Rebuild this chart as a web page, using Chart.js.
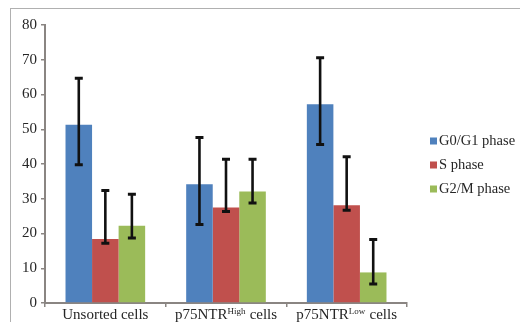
<!DOCTYPE html>
<html>
<head>
<meta charset="utf-8">
<script src="https://cdn.jsdelivr.net/npm/chart.js@4/dist/chart.umd.min.js"></script>
<style>
  html, body { margin: 0; padding: 0; background: #fff; }
  #wrap { width: 520px; height: 322px; position: relative; }
</style>
</head>
<body>
<div id="wrap"><canvas id="c" width="520" height="322"></canvas></div>
<script>
// Cell-cycle distribution (%) by population; "^{...}" marks superscript text
const categories = ['Unsorted cells', 'p75NTR^{High} cells', 'p75NTR^{Low} cells'];
const seriesNames = ['G0/G1 phase', 'S phase', 'G2/M phase'];
const seriesColors = ['#4F81BD', '#C0504D', '#9BBB59'];

const g0g1 = [51.3, 34.2, 57.2];
const sPhase = [18.4, 27.5, 28.1];
const g2m = [22.2, 32.1, 8.8];

// error bar ends (lower / upper)
const g0g1Low = [39.8, 22.6, 45.6];
const g0g1High = [64.7, 47.6, 70.6];
const sLow = [17.2, 26.3, 26.7];
const sHigh = [32.4, 41.4, 42.1];
const g2mLow = [18.7, 28.8, 5.5];
const g2mHigh = [31.3, 41.4, 18.3];

const yTicks = [0, 10, 20, 30, 40, 50, 60, 70, 80];

const seriesValues = [g0g1, sPhase, g2m];
const seriesLow = [g0g1Low, sLow, g2mLow];
const seriesHigh = [g0g1High, sHigh, g2mHigh];

const SERIF = '"Liberation Serif", "Times New Roman", serif';
const AXIS = '#8a8582';
const TEXT = '#262626';

const framePlugin = {
  id: 'frame',
  beforeDraw(chart) {
    const ctx = chart.ctx;
    ctx.save();
    ctx.fillStyle = '#fff';
    ctx.fillRect(0, 0, chart.width, chart.height);
    ctx.strokeStyle = '#b0b0b0';
    ctx.lineWidth = 1;
    ctx.strokeRect(10.5, 8.5, 530, 340);
    ctx.restore();
  }
};

const errorBarPlugin = {
  id: 'errorBars',
  afterDatasetsDraw(chart) {
    const ctx = chart.ctx;
    const y = chart.scales.y;
    ctx.save();
    ctx.strokeStyle = '#111';
    chart.data.datasets.forEach((ds, di) => {
      const meta = chart.getDatasetMeta(di);
      meta.data.forEach((bar, i) => {
        const x = bar.x;
        const yTop = y.getPixelForValue(seriesHigh[di][i]);
        const yBot = y.getPixelForValue(seriesLow[di][i]);
        ctx.lineWidth = 2.6;
        ctx.beginPath();
        ctx.moveTo(x, yTop);
        ctx.lineTo(x, yBot);
        ctx.stroke();
        ctx.lineWidth = 3;
        ctx.beginPath();
        ctx.moveTo(x - 4, yTop);
        ctx.lineTo(x + 4, yTop);
        ctx.moveTo(x - 4, yBot);
        ctx.lineTo(x + 4, yBot);
        ctx.stroke();
      });
    });
    ctx.restore();
  }
};

function parseLabel(s) {
  const m = s.match(/^(.*)\^\{(.*)\}(.*)$/);
  return m ? [m[1], m[2], m[3]] : [s, '', ''];
}

const xLabelPlugin = {
  id: 'xLabels',
  afterDraw(chart) {
    const ctx = chart.ctx;
    const xs = chart.scales.x;
    const base = '15px ' + SERIF;
    const sup = '9px ' + SERIF;
    ctx.save();
    ctx.fillStyle = TEXT;
    ctx.textBaseline = 'alphabetic';
    ctx.textAlign = 'left';
    categories.forEach((lab, i) => {
      const [a, b, c] = parseLabel(lab);
      ctx.font = base;
      const wa = ctx.measureText(a).width;
      const wc = ctx.measureText(c).width;
      ctx.font = sup;
      const wb = b ? ctx.measureText(b).width + 0.5 : 0;
      const total = wa + wb + wc;
      let x = xs.getPixelForValue(i) - total / 2;
      const by = 318.5;
      ctx.font = base;
      ctx.fillText(a, x, by);
      x += wa;
      if (b) {
        ctx.font = sup;
        ctx.fillText(b, x, by - 5);
        x += wb;
      }
      ctx.font = base;
      ctx.fillText(c, x, by);
    });
    ctx.restore();
  }
};

const legendPlugin = {
  id: 'sideLegend',
  afterDraw(chart) {
    const ctx = chart.ctx;
    ctx.save();
    ctx.font = '14.5px ' + SERIF;
    ctx.textBaseline = 'middle';
    ctx.textAlign = 'left';
    chart.data.datasets.forEach((ds, i) => {
      const cy = 141 + i * 24;
      ctx.fillStyle = ds.backgroundColor;
      ctx.fillRect(430, cy - 3.5, 7, 7);
      ctx.fillStyle = TEXT;
      ctx.fillText(ds.label, 439, cy + 0.5);
    });
    ctx.restore();
  }
};

new Chart(document.getElementById('c'), {
  type: 'bar',
  data: {
    labels: categories,
    datasets: seriesNames.map((name, i) => ({
      label: name,
      data: seriesValues[i],
      backgroundColor: seriesColors[i],
      borderWidth: 0,
      categoryPercentage: 0.66,
      barPercentage: 1.0
    }))
  },
  options: {
    responsive: false,
    animation: false,
    devicePixelRatio: 1,
    layout: { padding: { top: 25, right: 113, bottom: 0, left: 0 } },
    plugins: {
      legend: { display: false },
      tooltip: { enabled: false }
    },
    scales: {
      x: {
        grid: {
          offset: true,
          drawOnChartArea: false,
          drawTicks: true,
          tickLength: 4,
          color: AXIS,
          lineWidth: 1.5
        },
        border: { display: true, color: AXIS, width: 2 },
        ticks: { display: false },
        afterFit(scale) { scale.height = 19; }
      },
      y: {
        min: 0,
        max: 80,
        afterBuildTicks(scale) { scale.ticks = yTicks.map(v => ({ value: v })); },
        grid: {
          drawOnChartArea: false,
          drawTicks: true,
          tickLength: 4,
          color: AXIS,
          lineWidth: 1.5
        },
        border: { display: true, color: AXIS, width: 2 },
        ticks: {
          padding: 4,
          color: TEXT,
          font: { family: SERIF, size: 15 }
        },
        afterFit(scale) { scale.width = 45; }
      }
    }
  },
  plugins: [framePlugin, errorBarPlugin, xLabelPlugin, legendPlugin]
});
</script>
</body>
</html>
